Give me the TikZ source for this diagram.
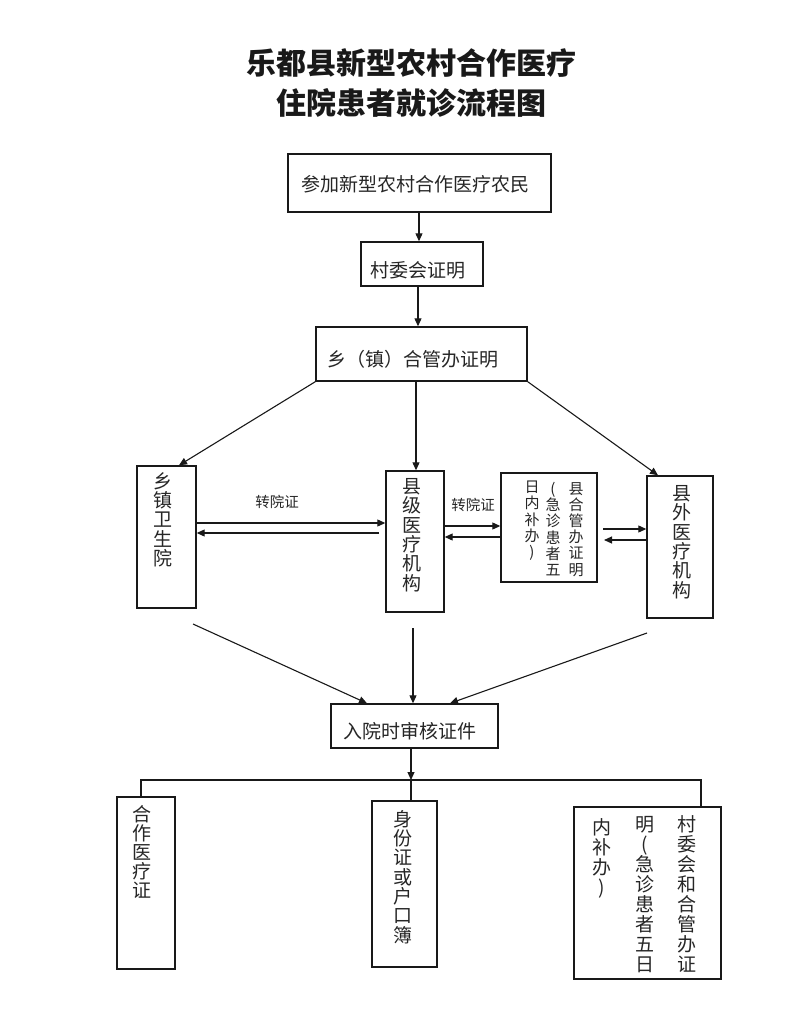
\documentclass[tikz,border=0pt]{standalone}
\usepackage{fontspec}
\newfontfamily\cjk{Noto Sans CJK SC}
\usetikzlibrary{arrows.meta}
\tikzset{
  box/.style={draw=black!90, line width=1.4pt, inner sep=0pt},
  txt/.style={font=\cjk\fontsize{19}{19.4}\selectfont, inner sep=0pt, align=center, text=black!85},
  vtxt/.style={txt, anchor=north},
  mtxt/.style={font=\cjk\fontsize{15}{16.2}\selectfont, inner sep=0pt, align=center, text=black!85, anchor=north},
  btxt/.style={font=\cjk\fontsize{19}{20}\selectfont, inner sep=0pt, align=center, text=black!85, anchor=north},
  lbl/.style={font=\cjk\fontsize{14.5}{14.5}\selectfont, inner sep=0pt, text=black!85},
  ttl/.style={font=\cjk\bfseries\fontsize{30}{30}\selectfont, inner sep=0pt, text=black!90},
  conn/.style={draw=black!90, line width=1.1pt},
  arr/.style={conn, -{Triangle[length=8pt,width=7pt]}}
}
\begin{document}
\begin{tikzpicture}[x=1pt,y=-1pt]
\useasboundingbox (0,0) rectangle (810,1015);
\fill[white] (0,0) rectangle (810,1015);

% title
\node[ttl] (title1) at (411.5,63) {乐都县新型农村合作医疗};
\node[ttl] (title2) at (411,103) {住院患者就诊流程图};

% top chain
\node[box, minimum width=263pt, minimum height=58pt] (b1) at (419.5,183) {};
\node[txt] (t1) at (415.5,184) {参加新型农村合作医疗农民};
\node[box, minimum width=122pt, minimum height=44pt] (b2) at (422,264) {};
\node[txt] (t2) at (418,270.5) {村委会证明};
\node[box, minimum width=211pt, minimum height=54pt] (b3) at (421.5,354) {};
\node[txt] (t3) at (412.5,359) {乡（镇）合管办证明};

% middle row
\node[box, minimum width=59pt, minimum height=142pt] (L) at (166.5,537) {};
\node[vtxt] (Lt) at (163,472) {乡\\镇\\卫\\生\\院};
\node[box, minimum width=58pt, minimum height=141pt] (C) at (415,541.5) {};
\node[vtxt] (Ct) at (412,478) {县\\级\\医\\疗\\机\\构};
\node[box, minimum width=96pt, minimum height=109pt] (M) at (549,527.5) {};
\node[mtxt] (Mt1) at (576,482) {县\\合\\管\\办\\证\\明};
\node[mtxt] (Mt2) at (553,482) {(\\急\\诊\\患\\者\\五};
\node[mtxt] (Mt3) at (532,481) {日\\内\\补\\办\\)};
\node[box, minimum width=66pt, minimum height=142pt] (R) at (680,547) {};
\node[vtxt] (Rt) at (682,485) {县\\外\\医\\疗\\机\\构};

\node[lbl] (z1) at (277,502) {转院证};
\node[lbl] (z2) at (473,505) {转院证};

% arrows top
\draw[arr] (b1.south -| 419,0) -- (b2.north -| 419,0);
\draw[arr] (b2.south -| 418,0) -- (b3.north -| 418,0);
\draw[arr] (b3.south west) -- (L.north -| 179,0);
\draw[arr] (b3.south -| 416,0) -- (C.north -| 416,0);
\draw[arr] (b3.south east) -- (R.north -| 658,0);

% arrows middle
\coordinate (c1) at (379,533);
\coordinate (m1) at (603,529);
\coordinate (m2) at (604,540);
\draw[arr] (L.east |- 0,523) -- (C.west |- 0,523);
\draw[arr] (c1) -- (L.east |- c1);
\draw[arr] (C.east |- 0,526) -- (M.west |- 0,526);
\draw[arr] (M.west |- 0,537) -- (C.east |- 0,537);
\draw[arr] (m1) -- (R.west |- m1);
\draw[arr] (R.west |- m2) -- (m2);

% audit box
\node[box, minimum width=167pt, minimum height=44pt] (A) at (414.5,726) {};
\node[txt] (At) at (409.5,731) {入院时审核证件};

\coordinate (d1) at (193,624);
\coordinate (d2) at (413,628);
\coordinate (d3) at (647,633);
\draw[arr] (d1) -- (A.north -| 367,0);
\draw[arr] (d2) -- (A.north -| d2);
\draw[arr] (d3) -- (A.north -| 450,0);

% bottom boxes
\node[box, minimum width=58pt, minimum height=172pt] (B1) at (146,883) {};
\node[btxt, font=\cjk\fontsize{19}{19}\selectfont] (B1t) at (142,805) {合\\作\\医\\疗\\证};
\node[box, minimum width=65pt, minimum height=166pt] (B2) at (404.5,884) {};
\node[btxt, font=\cjk\fontsize{19}{19.3}\selectfont] (B2t) at (403,810) {身\\份\\证\\或\\户\\口\\簿};
\node[box, minimum width=147pt, minimum height=172pt] (B3) at (647.5,893) {};
\node[btxt] (B3t1) at (687,815) {村\\委\\会\\和\\合\\管\\办\\证};
\node[btxt] (B3t2) at (645,816) {明\\(\\急\\诊\\患\\者\\五\\日};
\node[btxt] (B3t3) at (602,818) {内\\补\\办\\)};

% bracket
\coordinate (j) at (411,780);
\coordinate (jl) at (141,780);
\coordinate (jr) at (701,780);
\draw[arr] (A.south -| j) -- (j);
\draw[conn] (B1.north -| jl) -- (jl) -- (jr) -- (B3.north -| jr);
\draw[conn] (j) -- (B2.north -| j);
\end{tikzpicture}
\end{document}
